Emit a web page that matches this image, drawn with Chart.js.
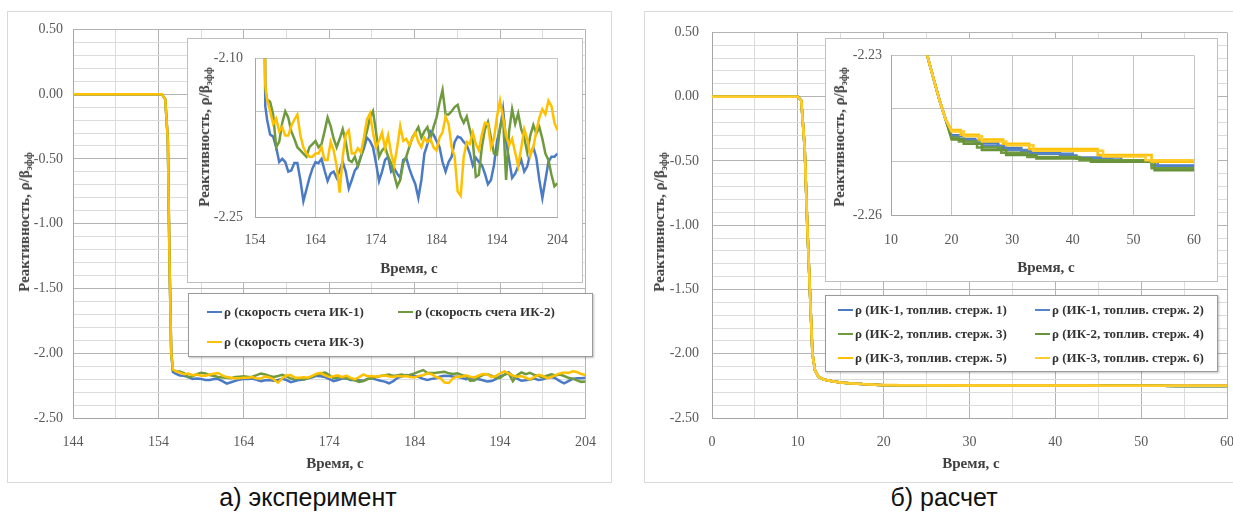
<!DOCTYPE html>
<html>
<head>
<meta charset="utf-8">
<script src="https://cdn.jsdelivr.net/npm/chart.js@4.4.0/dist/chart.umd.min.js"></script>
<style>
  body { margin: 0; width: 1233px; height: 513px; overflow: hidden; background: #fff; position: relative;
         font-family: "Liberation Serif", "DejaVu Serif", "Times New Roman", serif; }
  .abs { position: absolute; }
  .frame { border: 1px solid #d9d9d9; box-sizing: border-box; background: #fff; }
  .box { border: 1px solid #bfbfbf; box-sizing: border-box; background: #fff; }
  .legend { border: 1px solid #9a9a9a; box-sizing: border-box; background: #fff; box-shadow: 1px 1px 2px rgba(0,0,0,0.25); }
  .item { position: absolute; white-space: nowrap; font-weight: bold; font-size: 13px; color: #333;
          transform: translateY(-50%); display: flex; align-items: center; }
  .item i { display: inline-block; width: 15px; height: 2.5px; margin-right: 2px; }
  .title { position: absolute; white-space: nowrap; font-weight: bold; font-size: 15px; color: #404040;
           transform: translate(-50%, -50%); }
  .ytitle { transform: translate(-50%, -50%) rotate(-90deg); }
  .title sub { font-size: 10px; vertical-align: -3px; }
  .cap { position: absolute; white-space: nowrap; font-family: "Liberation Sans", Arial, sans-serif; font-size: 25px;
         color: #111; transform: translate(-50%, -50%); }
</style>
</head>
<body>
<div class="abs frame" style="left:7px;top:11px;width:605px;height:472px"></div>
<div class="abs frame" style="left:644px;top:11px;width:620px;height:472px"></div>
<canvas id="mainA" class="abs" width="605" height="471" style="left:7px;top:11px"></canvas>
<canvas id="mainB" class="abs" width="606" height="471" style="left:644px;top:11px"></canvas>
<div class="abs box" style="left:187px;top:38px;width:396px;height:245px"></div>
<canvas id="insetA" class="abs" width="396" height="245" style="left:187px;top:38px"></canvas>
<div class="abs box" style="left:825px;top:38px;width:393px;height:244px"></div>
<canvas id="insetB" class="abs" width="393" height="244" style="left:825px;top:38px"></canvas>
<div id="legA" class="abs legend" style="left:188px;top:293px;width:405px;height:64px"></div>
<div id="legB" class="abs legend" style="left:825px;top:295px;width:393px;height:77px"></div>

<div class="title ytitle" style="left:25px;top:222px">Реактивность, ρ/β<sub>эфф</sub></div>
<div class="title ytitle" style="left:660px;top:222px">Реактивность, ρ/β<sub>эфф</sub></div>
<div class="title ytitle" style="left:205px;top:137px">Реактивность, ρ/β<sub>эфф</sub></div>
<div class="title ytitle" style="left:840px;top:137px">Реактивность, ρ/β<sub>эфф</sub></div>
<div class="title" style="left:335px;top:463px">Время, с</div>
<div class="title" style="left:971px;top:463px">Время, с</div>
<div class="title" style="left:409px;top:268px">Время, с</div>
<div class="title" style="left:1046px;top:267px">Время, с</div>
<div class="cap" style="left:308px;top:497px">а) эксперимент</div>
<div class="cap" style="left:944px;top:497px">б) расчет</div>

<script>
// ---- эксперимент: скачок реактивности, затем шумовой сигнал ----
const dropTime = [144, 154.4, 154.8, 155.1, 155.3, 155.5, 155.7];
const dropIK1 = [0, 0, -0.04, -0.35, -1.3, -2.0, -2.145];
const dropIK2 = [0, 0, -0.04, -0.35, -1.3, -2.0, -2.13];
const dropIK3 = [0, 0, -0.04, -0.35, -1.3, -2.0, -2.125];

const noiseTime = [
  156, 156.5, 157, 157.5, 158, 158.5, 159, 159.5, 160, 160.5,
  161, 161.5, 162, 162.5, 163, 163.5, 164, 164.5, 165, 165.5,
  166, 166.5, 167, 167.5, 168, 168.5, 169, 169.5, 170, 170.5,
  171, 171.5, 172, 172.5, 173, 173.5, 174, 174.5, 175, 175.5,
  176, 176.5, 177, 177.5, 178, 178.5, 179, 179.5, 180, 180.5,
  181, 181.5, 182, 182.5, 183, 183.5, 184, 184.5, 185, 185.5,
  186, 186.5, 187, 187.5, 188, 188.5, 189, 189.5, 190, 190.5,
  191, 191.5, 192, 192.5, 193, 193.5, 194, 194.5, 195, 195.5,
  196, 196.5, 197, 197.5, 198, 198.5, 199, 199.5, 200, 200.5,
  201, 201.5, 202, 202.5, 203, 203.5, 204
];
const noiseIK1 = [
  -2.158, -2.172, -2.174, -2.184, -2.198, -2.195, -2.198, -2.207, -2.206, -2.199,
  -2.199, -2.215, -2.235, -2.224, -2.213, -2.204, -2.198, -2.199, -2.195, -2.206,
  -2.216, -2.209, -2.207, -2.213, -2.206, -2.198, -2.207, -2.223, -2.215, -2.206,
  -2.202, -2.193, -2.185, -2.175, -2.178, -2.184, -2.199, -2.216, -2.207, -2.196,
  -2.193, -2.207, -2.204, -2.209, -2.213, -2.196, -2.194, -2.204, -2.212, -2.219,
  -2.232, -2.215, -2.190, -2.181, -2.169, -2.172, -2.178, -2.184, -2.198, -2.207,
  -2.198, -2.193, -2.179, -2.174, -2.175, -2.179, -2.182, -2.190, -2.201, -2.194,
  -2.198, -2.201, -2.209, -2.219, -2.215, -2.201, -2.178, -2.167, -2.148, -2.178,
  -2.196, -2.213, -2.209, -2.202, -2.196, -2.207, -2.202, -2.190, -2.184, -2.194,
  -2.215, -2.232, -2.215, -2.198, -2.193, -2.193, -2.190
];
const noiseIK2 = [
  -2.139, -2.141, -2.153, -2.184, -2.179, -2.161, -2.150, -2.156, -2.169, -2.176,
  -2.184, -2.187, -2.190, -2.193, -2.184, -2.181, -2.178, -2.184, -2.181, -2.169,
  -2.156, -2.164, -2.176, -2.184, -2.176, -2.167, -2.179, -2.196, -2.198, -2.193,
  -2.202, -2.193, -2.179, -2.169, -2.156, -2.150, -2.169, -2.193, -2.187, -2.184,
  -2.193, -2.199, -2.210, -2.221, -2.215, -2.199, -2.193, -2.184, -2.175, -2.170,
  -2.165, -2.175, -2.169, -2.165, -2.176, -2.165, -2.156, -2.142, -2.130, -2.153,
  -2.153, -2.150, -2.146, -2.144, -2.155, -2.161, -2.155, -2.167, -2.178, -2.212,
  -2.210, -2.184, -2.167, -2.160, -2.175, -2.190, -2.191, -2.165, -2.155, -2.215,
  -2.169, -2.148, -2.162, -2.152, -2.167, -2.175, -2.189, -2.173, -2.163, -2.171,
  -2.165, -2.176, -2.190, -2.196, -2.210, -2.221, -2.218
];
const noiseIK3 = [
  -2.139, -2.150, -2.162, -2.157, -2.169, -2.165, -2.173, -2.173, -2.164, -2.158,
  -2.153, -2.173, -2.184, -2.190, -2.193, -2.193, -2.190, -2.190, -2.184, -2.196,
  -2.196, -2.179, -2.187, -2.202, -2.227, -2.193, -2.172, -2.168, -2.190, -2.190,
  -2.185, -2.189, -2.175, -2.158, -2.152, -2.170, -2.184, -2.178, -2.170, -2.185,
  -2.173, -2.190, -2.201, -2.184, -2.164, -2.178, -2.176, -2.182, -2.176, -2.170,
  -2.179, -2.184, -2.175, -2.179, -2.176, -2.184, -2.187, -2.175, -2.170, -2.155,
  -2.162, -2.184, -2.193, -2.226, -2.230, -2.193, -2.179, -2.181, -2.170, -2.181,
  -2.187, -2.172, -2.161, -2.162, -2.184, -2.176, -2.155, -2.140, -2.156, -2.173,
  -2.182, -2.176, -2.189, -2.202, -2.185, -2.167, -2.176, -2.192, -2.184, -2.169,
  -2.156, -2.148, -2.153, -2.140, -2.145, -2.161, -2.168
];

// ---- расчет: общий спад, затем ступенчатый выход на -2.25 ----
const calcTime = [0, 10, 10.4, 10.8, 11.1, 11.4, 11.7, 12.0, 12.4, 13, 14, 15, 16, 17, 18, 19];
const calcDrop = [0, 0, -0.03, -0.4, -1.0, -1.5, -2.0, -2.13, -2.18, -2.2, -2.214, -2.2235, -2.2301, -2.2343, -2.2384, -2.2420];
const calcEnd = 60;
const stepT1 = [20, 21.2, 23.9, 27.7, 31.5, 37.9, 40.6, 46.5, 53];
const stepV1 = [-2.2450, -2.2457, -2.2465, -2.2474, -2.2482, -2.2488, -2.2494, -2.2498, -2.2507];
const stepT2 = [20, 22, 25, 29, 33, 40, 48, 54];
const stepV2 = [-2.2452, -2.2460, -2.2470, -2.2478, -2.2485, -2.2492, -2.2500, -2.2510];
const stepT3 = [20, 21.2, 24.2, 28.2, 32.5, 41.1, 53];
const stepV3 = [-2.2455, -2.2462, -2.2473, -2.2483, -2.2491, -2.2497, -2.2512];
const stepT4 = [20, 22, 25, 29, 34, 43, 53.5];
const stepV4 = [-2.2458, -2.2466, -2.2478, -2.2487, -2.2494, -2.2500, -2.2516];
const stepT5 = [20, 21.5, 24.5, 28.5, 32.8, 44.1, 53];
const stepV5 = [-2.2440, -2.2449, -2.2458, -2.2466, -2.2476, -2.2487, -2.2500];
const stepT6 = [20, 22, 25, 29, 33.5, 45, 52];
const stepV6 = [-2.2443, -2.2452, -2.2462, -2.2469, -2.2479, -2.2490, -2.2497];

const labelsA = ["ρ (скорость счета ИК-1)", "ρ (скорость счета ИК-2)", "ρ (скорость счета ИК-3)"];
const labelsB = ["ρ (ИК-1, топлив. стерж. 1)", "ρ (ИК-1, топлив. стерж. 2)",
                 "ρ (ИК-2, топлив. стерж. 3)", "ρ (ИК-2, топлив. стерж. 4)",
                 "ρ (ИК-3, топлив. стерж. 5)", "ρ (ИК-3, топлив. стерж. 6)"];

const BLUE = "#4a7bc4", GREEN = "#6f9a3e", YELLOW = "#ffc000";
const colorsA = [BLUE, GREEN, YELLOW];
const colorsB = [BLUE, "#5584c8", GREEN, "#689339", YELLOW, "#ffcb2e"];

const SERIF = '"Liberation Serif", "DejaVu Serif", "Times New Roman", serif';
const TICK = "#595959";

function pts(xs, ys) { return xs.map((x, i) => ({ x: x, y: ys[i] })); }
function steps(ts, vs, tEnd) {
  const out = [];
  ts.forEach((t, i) => {
    out.push({ x: t, y: vs[i] });
    out.push({ x: i < ts.length - 1 ? ts[i + 1] : tEnd, y: vs[i] });
  });
  return out;
}
function isMult(v, base, step) { const k = (v - base) / step; return Math.abs(k - Math.round(k)) < 1e-6; }
function fmt(v) { return (Math.abs(v) < 1e-9 ? 0 : v).toFixed(2); }

const expData = [
  pts(dropTime, dropIK1).concat(pts(noiseTime, noiseIK1)),
  pts(dropTime, dropIK2).concat(pts(noiseTime, noiseIK2)),
  pts(dropTime, dropIK3).concat(pts(noiseTime, noiseIK3))
];
const calcData = [
  [stepT1, stepV1], [stepT2, stepV2], [stepT3, stepV3],
  [stepT4, stepV4], [stepT5, stepV5], [stepT6, stepV6]
].map(([t, v]) => pts(calcTime, calcDrop).concat(steps(t, v, calcEnd)));

function sets(data, labels, colors, lw) {
  return data.map((d, i) => ({
    label: labels[i], data: d, borderColor: colors[i], borderWidth: lw,
    pointRadius: 0, tension: 0, fill: false, order: data.length - i
  }));
}

function makeChart(id, datasets, o) {
  return new Chart(document.getElementById(id), {
    type: "line",
    data: { datasets: datasets },
    options: {
      responsive: false, animation: false, events: [],
      layout: { padding: { left: 0, right: o.padR, top: o.padT, bottom: 0 } },
      plugins: { legend: { display: false }, tooltip: { enabled: false } },
      scales: {
        x: {
          type: "linear", min: o.xMin, max: o.xMax,
          afterFit: s => { s.height = o.xH; },
          ticks: { stepSize: o.xStep, autoSkip: false, maxRotation: 0, padding: o.xPad, color: TICK,
                   font: { family: SERIF, size: 14 }, callback: o.xLabel },
          grid: { color: o.xGrid, drawTicks: false },
          border: { color: "#a6a6a6" }
        },
        y: {
          type: "linear", min: o.yMin, max: o.yMax,
          afterFit: s => { s.width = o.yW; },
          ticks: { stepSize: o.yStep, autoSkip: false, padding: o.yPad, color: TICK,
                   font: { family: SERIF, size: 14 }, callback: o.yLabel },
          grid: { color: o.yGrid, drawTicks: false },
          border: { color: "#a6a6a6" }
        }
      }
    }
  });
}

const MAJOR = "#b4b4b4", MINOR = "#dcdcdc", INSET_GRID = "#c4c4c4";
const ends = (v, i, t) => (i === 0 || i === t.length - 1) ? fmt(v) : "";
const mainY = {
  yMin: -2.5, yMax: 0.5, yStep: 0.1,
  yLabel: v => isMult(v, 0, 0.5) ? fmt(v) : "",
  yGrid: c => isMult(c.tick.value, 0, 0.5) ? MAJOR : MINOR
};

makeChart("mainA", sets(expData, labelsA, colorsA, 2.5), Object.assign({
  padR: 15, padT: 17, xH: 64, yW: 66, xPad: 16, yPad: 10,
  xMin: 144, xMax: 204, xStep: 5,
  xLabel: v => isMult(v, 144, 10) ? String(v) : "",
  xGrid: c => isMult(c.tick.value, 144, 10) ? MAJOR : MINOR
}, mainY));

makeChart("mainB", sets(calcData, labelsB, colorsB, 2.5), Object.assign({
  padR: 20, padT: 17, xH: 64, yW: 68, xPad: 16, yPad: 13,
  xMin: 0, xMax: 60, xStep: 5,
  xLabel: v => isMult(v, 0, 10) ? String(v) : "",
  xGrid: c => isMult(c.tick.value, 0, 10) ? MAJOR : MINOR
}, mainY));

makeChart("insetA", sets(expData, labelsA, colorsA, 2.5), {
  padR: 20, padT: 16, xH: 66, yW: 68, xPad: 15, yPad: 12,
  xMin: 154, xMax: 204, xStep: 10, xLabel: v => String(v), xGrid: INSET_GRID,
  yMin: -2.25, yMax: -2.10, yStep: 0.05, yLabel: ends, yGrid: INSET_GRID
});

makeChart("insetB", sets(calcData, labelsB, colorsB, 2.5), {
  padR: 16, padT: 16, xH: 67, yW: 66, xPad: 17, yPad: 9,
  xMin: 10, xMax: 60, xStep: 10, xLabel: v => String(v), xGrid: INSET_GRID,
  yMin: -2.26, yMax: -2.23, yStep: 0.01, yLabel: ends, yGrid: INSET_GRID
});

// легенды
function legend(id, labels, colors, cols, rows, colX, rowY) {
  const el = document.getElementById(id);
  labels.forEach((txt, i) => {
    const r = Math.floor(i / cols), c = i % cols;
    const it = document.createElement("div");
    it.className = "item";
    it.style.left = colX[c] + "px";
    it.style.top = rowY[r] + "px";
    it.innerHTML = '<i style="background:' + colors[i] + '"></i>' + txt;
    el.appendChild(it);
  });
}
legend("legA", labelsA, colorsA, 2, 2, [18, 209], [18, 48]);
legend("legB", labelsB, colorsB, 2, 3, [12, 209], [14, 38, 62]);
</script>
</body>
</html>
